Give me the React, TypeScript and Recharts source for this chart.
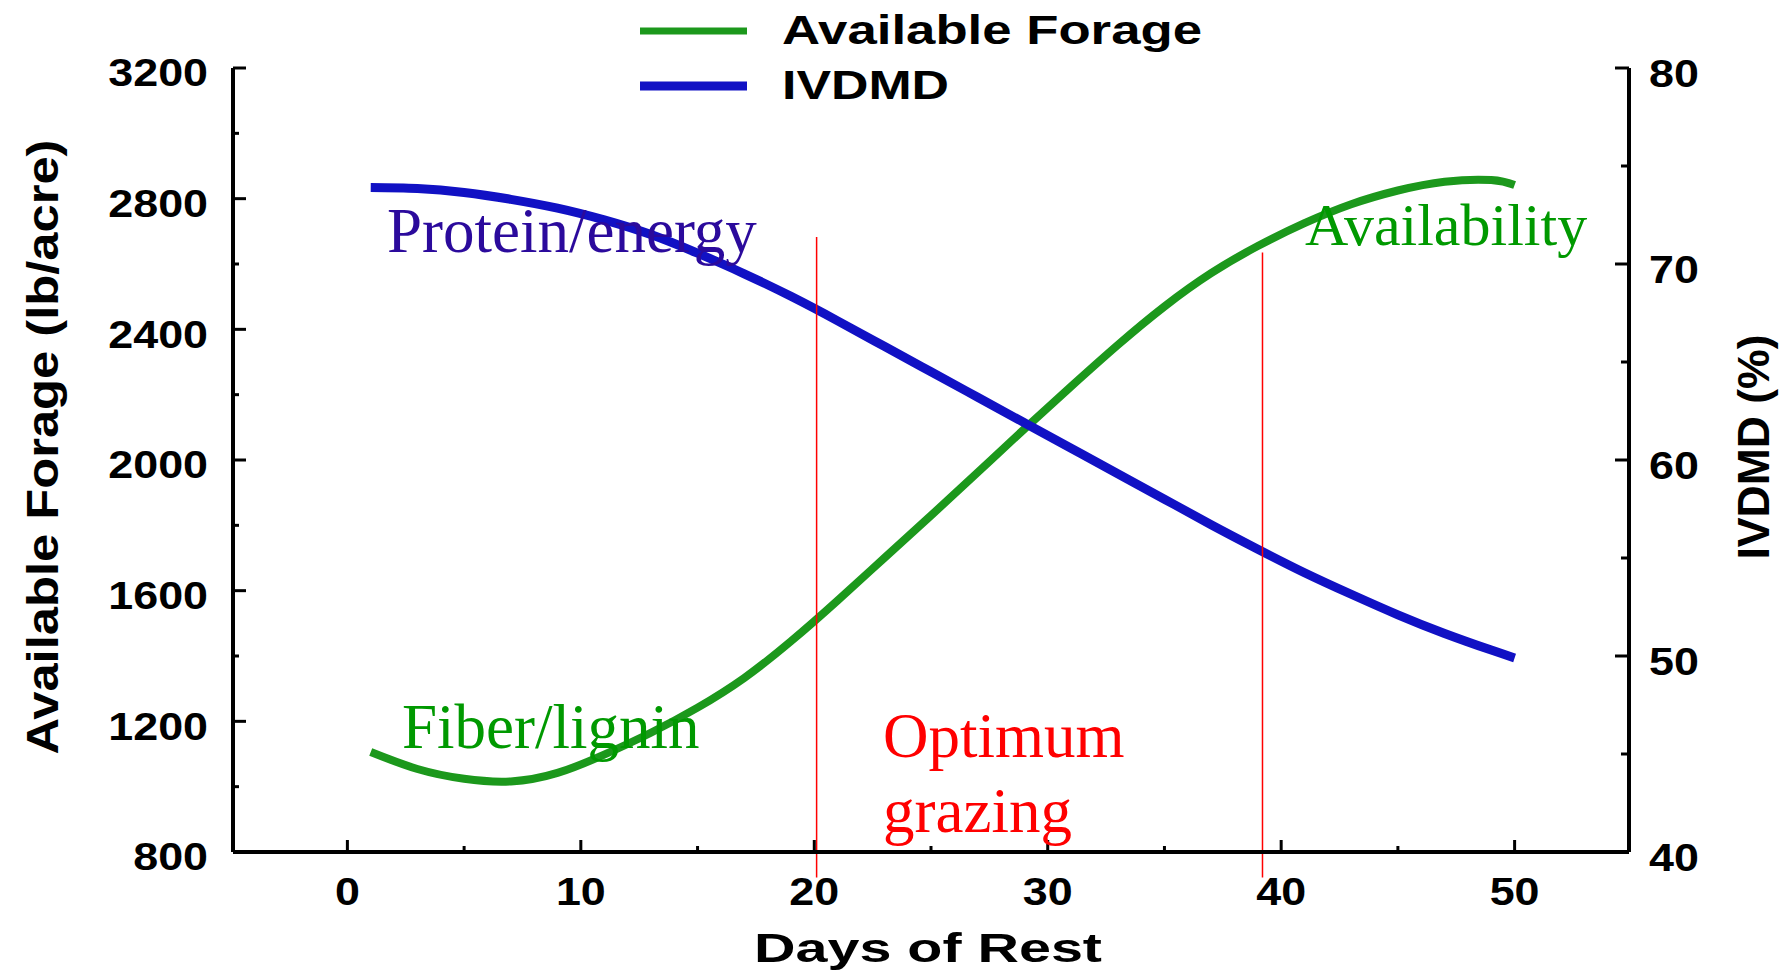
import React from "react";
import {
  LineChart,
  Line,
  XAxis,
  YAxis,
  ReferenceLine,
  Legend,
} from "recharts";

// days of rest where the curves were read
const days = [1, 3, 5, 7, 9, 11, 13, 15, 17, 19, 21, 23, 25, 27, 29, 31, 33, 35, 37, 39, 41, 43, 45, 47, 49, 50];
// Available Forage (lb/acre), left axis
const forage = [1106, 1054, 1024, 1016, 1042, 1098, 1165, 1242, 1333, 1445, 1570, 1700, 1830, 1962, 2095, 2225, 2352, 2470, 2572, 2655, 2725, 2783, 2825, 2852, 2857, 2842];
// IVDMD (%), right axis
const ivdmd = [73.9, 73.85, 73.65, 73.3, 72.85, 72.25, 71.5, 70.55, 69.5, 68.35, 67.1, 65.8, 64.5, 63.2, 61.9, 60.6, 59.3, 58.0, 56.7, 55.45, 54.25, 53.15, 52.1, 51.15, 50.3, 49.9];

const xTicks = [0, 5, 10, 15, 20, 25, 30, 35, 40, 45, 50];
const leftTicks = [800, 1000, 1200, 1400, 1600, 1800, 2000, 2200, 2400, 2600, 2800, 3000, 3200];
const rightTicks = [40, 45, 50, 55, 60, 65, 70, 75, 80];

// optimum grazing window (red markers): day, top of line, bottom of line (lb/acre)
const optimumDays = [20.1, 39.2];
const optimumTop = [2683, 2635];
const optimumBottom = 722;

const GREEN = "#1c981c";
const BLUE = "#1111c4";
const SANS = "'Liberation Sans', Arial, sans-serif";
const SERIF = "'Liberation Serif', 'Times New Roman', serif";

const rows = days.map((d, i) => ({ day: d, forage: forage[i], ivdmd: ivdmd[i] }));

function XTick(props: any) {
  const { x, y, payload } = props;
  const major = payload.value % 10 === 0;
  return (
    <g>
      <line x1={x} x2={x} y1={y} y2={y - (major ? 12 : 6)} stroke="#000" strokeWidth={3} />
      {major && (
        <text
          transform={`translate(${x},${y + 40}) scale(1.18,1)`}
          textAnchor="middle"
          dominantBaseline="central"
          fontFamily={SANS}
          fontWeight="bold"
          fontSize={38}
          fill="#000"
        >
          {payload.value}
        </text>
      )}
    </g>
  );
}

function LeftTick(props: any) {
  const { x, y, payload } = props;
  const major = payload.value % 400 === 0;
  return (
    <g>
      <line x1={x} x2={x + (major ? 13 : 6)} y1={y} y2={y} stroke="#000" strokeWidth={3} />
      {major && (
        <text
          transform={`translate(${x - 25},${y + 5}) scale(1.18,1)`}
          textAnchor="end"
          dominantBaseline="central"
          fontFamily={SANS}
          fontWeight="bold"
          fontSize={38}
          fill="#000"
        >
          {payload.value}
        </text>
      )}
    </g>
  );
}

function RightTick(props: any) {
  const { x, y, payload } = props;
  const major = payload.value % 10 === 0;
  return (
    <g>
      <line x1={x} x2={x - (major ? 14 : 8)} y1={y} y2={y} stroke="#000" strokeWidth={3} />
      {major && (
        <text
          transform={`translate(${x + 20},${y + 6}) scale(1.18,1)`}
          textAnchor="start"
          dominantBaseline="central"
          fontFamily={SANS}
          fontWeight="bold"
          fontSize={38}
          fill="#000"
        >
          {payload.value}
        </text>
      )}
    </g>
  );
}

function LegendBox(props: any) {
  const items = props.payload || [];
  const lengths = [420, 167];
  return (
    <svg width={640} height={115}>
      {items.map((item: any, i: number) => {
        const cy = i === 0 ? 31 : 86;
        return (
          <g key={item.value}>
            <line x1={10} x2={117} y1={cy} y2={cy} stroke={item.color} strokeWidth={i === 0 ? 7 : 9} />
            <text
              x={152}
              y={cy + 13}
              fontFamily={SANS}
              fontWeight="bold"
              fontSize={40}
              fill="#000"
              textLength={lengths[i]}
              lengthAdjust="spacingAndGlyphs"
            >
              {item.value}
            </text>
          </g>
        );
      })}
    </svg>
  );
}

export default function App() {
  return (
    <div style={{ position: "absolute", left: 0, top: 0, width: 1779, height: 974, background: "#fff" }}>
      <LineChart
        width={1779}
        height={974}
        data={rows}
        margin={{ top: 68, right: 30, bottom: 42, left: 83 }}
      >
        <XAxis
          dataKey="day"
          type="number"
          domain={[-4.9, 54.9]}
          ticks={xTicks}
          interval={0}
          height={80}
          tickSize={0}
          tickMargin={0}
          tickLine={false}
          tick={XTick}
          axisLine={{ stroke: "#000", strokeWidth: 4 }}
          allowDataOverflow
        />
        <YAxis
          yAxisId="left"
          domain={[800, 3200]}
          ticks={leftTicks}
          interval={0}
          width={150}
          tickSize={0}
          tickMargin={0}
          tickLine={false}
          tick={LeftTick}
          axisLine={{ stroke: "#000", strokeWidth: 4 }}
          allowDataOverflow
        />
        <YAxis
          yAxisId="right"
          orientation="right"
          domain={[40, 80]}
          ticks={rightTicks}
          interval={0}
          width={120}
          tickSize={0}
          tickMargin={0}
          tickLine={false}
          tick={RightTick}
          axisLine={{ stroke: "#000", strokeWidth: 4 }}
          allowDataOverflow
        />
        <Line
          yAxisId="left"
          dataKey="forage"
          name="Available Forage"
          type="natural"
          stroke={GREEN}
          strokeWidth={8}
          dot={false}
          isAnimationActive={false}
        />
        <Line
          yAxisId="right"
          dataKey="ivdmd"
          name="IVDMD"
          type="natural"
          stroke={BLUE}
          strokeWidth={9}
          dot={false}
          isAnimationActive={false}
        />
        {optimumDays.map((d, i) => (
          <ReferenceLine
            key={d}
            yAxisId="left"
            segment={[
              { x: d, y: optimumTop[i] },
              { x: d, y: optimumBottom },
            ]}
            stroke="#ff0000"
            strokeWidth={1.5}
            ifOverflow="visible"
          />
        ))}
        <Legend
          layout="vertical"
          align="center"
          verticalAlign="middle"
          content={LegendBox}
          wrapperStyle={{ top: 0, left: 630, width: 640, height: 115 }}
        />
      </LineChart>
      <svg
        width={1779}
        height={974}
        style={{ position: "absolute", left: 0, top: 0, pointerEvents: "none" }}
      >
        <text
          transform="translate(42,447) rotate(-90)"
          textAnchor="middle"
          dominantBaseline="central"
          fontFamily={SANS}
          fontWeight="bold"
          fontSize={44}
          textLength={615}
          lengthAdjust="spacingAndGlyphs"
        >
          Available Forage (lb/acre)
        </text>
        <text
          transform="translate(1753,447) rotate(-90)"
          textAnchor="middle"
          dominantBaseline="central"
          fontFamily={SANS}
          fontWeight="bold"
          fontSize={44}
          textLength={225}
          lengthAdjust="spacingAndGlyphs"
        >
          IVDMD (%)
        </text>
        <text
          x={754}
          y={962}
          fontFamily={SANS}
          fontWeight="bold"
          fontSize={41}
          textLength={348}
          lengthAdjust="spacingAndGlyphs"
        >
          Days of Rest
        </text>
        <text x={387} y={252} fontFamily={SERIF} fontSize={63} fill="#2b0a9c">
          Protein/energy
        </text>
        <text x={1305} y={245} fontFamily={SERIF} fontSize={60} fill="#009900">
          Availability
        </text>
        <text x={402} y={748} fontFamily={SERIF} fontSize={63} fill="#009900">
          Fiber/lignin
        </text>
        <text x={883} y={757} fontFamily={SERIF} fontSize={63} fill="#ff0000">
          Optimum
        </text>
        <text x={883} y={832} fontFamily={SERIF} fontSize={63} fill="#ff0000">
          grazing
        </text>
      </svg>
    </div>
  );
}
